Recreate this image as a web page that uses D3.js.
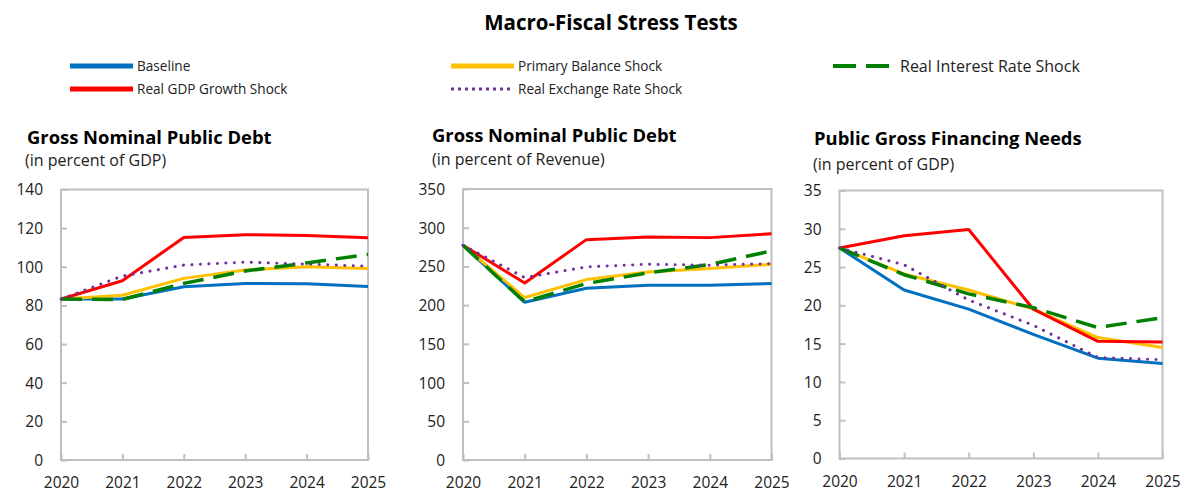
<!DOCTYPE html>
<html>
<head>
<meta charset="utf-8">
<script src="https://cdn.jsdelivr.net/npm/d3@7"></script>
<style>
  body { margin: 0; background: #fff; }
  svg { font-family: "Open Sans", "Noto Sans", sans-serif; }
</style>
</head>
<body>
<div id="wrapper"></div>
<script>
// years on the x axis
const years = [2020, 2021, 2022, 2023, 2024, 2025]

// scenario names (legend order)
const scenarios = ["Baseline", "Primary Balance Shock", "Real Interest Rate Shock",
                   "Real GDP Growth Shock", "Real Exchange Rate Shock"]

// panel 1: gross nominal public debt, % of GDP
const debtGdpBaseline  = [83.3, 83.3, 89.7, 91.4, 91.2, 89.8]
const debtGdpPrimary   = [83.3, 85.3, 94.0, 98.3, 100.0, 99.1]
const debtGdpInterest  = [83.3, 83.1, 91.4, 97.8, 102.0, 106.4]
const debtGdpGrowth    = [83.3, 92.8, 115.2, 116.6, 116.2, 115.0]
const debtGdpExchange  = [83.3, 95.2, 100.9, 102.4, 101.4, 100.3]

// panel 2: gross nominal public debt, % of revenue
const debtRevBaseline  = [277.3, 203.8, 221.8, 225.7, 225.7, 227.9]
const debtRevPrimary   = [277.3, 209.8, 233.0, 242.9, 247.2, 252.8]
const debtRevInterest  = [277.3, 204.2, 227.9, 241.6, 252.4, 270.0]
const debtRevGrowth    = [277.3, 228.7, 284.6, 288.0, 287.2, 292.3]
const debtRevExchange  = [277.3, 235.6, 249.4, 252.8, 251.5, 253.7]

// panel 3: public gross financing needs, % of GDP
const gfnBaseline  = [27.5, 22.0, 19.5, 16.2, 13.1, 12.4]
const gfnPrimary   = [27.5, 24.1, 22.0, 19.5, 15.8, 14.5]
const gfnInterest  = [27.5, 24.0, 21.5, 19.7, 17.1, 18.4]
const gfnGrowth    = [27.5, 29.1, 29.9, 19.5, 15.3, 15.2]
const gfnExchange  = [27.5, 25.3, 20.7, 17.4, 13.2, 12.9]

// y tick values per panel
const ticksDebtGdp = [0, 20, 40, 60, 80, 100, 120, 140]
const ticksDebtRev = [0, 50, 100, 150, 200, 250, 300, 350]
const ticksGfn     = [0, 5, 10, 15, 20, 25, 30, 35]

const styles = {
  "Baseline":                 {color: "#0070C0", width: 3, dash: null},
  "Primary Balance Shock":    {color: "#FFC000", width: 3, dash: null},
  "Real Interest Rate Shock": {color: "#008000", width: 3.5, dash: "21,10"},
  "Real GDP Growth Shock":    {color: "#FF0000", width: 3, dash: null},
  "Real Exchange Rate Shock": {color: "#7030A0", width: 3, dash: "0.1,8.4", cap: "round"}
}
// drawing order (bottom to top)
const drawOrder = ["Baseline", "Primary Balance Shock", "Real GDP Growth Shock",
                   "Real Interest Rate Shock", "Real Exchange Rate Shock"]

const panels = [
  {title: "Gross Nominal Public Debt", sub: "(in percent of GDP)",
   tx: 27, ty: 144, sx: 25, sy: 166,
   box: {left: 61, right: 368, top: 189.5, bottom: 460},
   ticks: ticksDebtGdp,
   series: {"Baseline": debtGdpBaseline, "Primary Balance Shock": debtGdpPrimary,
            "Real Interest Rate Shock": debtGdpInterest, "Real GDP Growth Shock": debtGdpGrowth,
            "Real Exchange Rate Shock": debtGdpExchange}},
  {title: "Gross Nominal Public Debt", sub: "(in percent of Revenue)",
   tx: 432, ty: 142, sx: 432, sy: 165,
   box: {left: 463, right: 771.5, top: 189, bottom: 460},
   ticks: ticksDebtRev,
   series: {"Baseline": debtRevBaseline, "Primary Balance Shock": debtRevPrimary,
            "Real Interest Rate Shock": debtRevInterest, "Real GDP Growth Shock": debtRevGrowth,
            "Real Exchange Rate Shock": debtRevExchange}},
  {title: "Public Gross Financing Needs", sub: "(in percent of GDP)",
   tx: 814, ty: 145, sx: 813, sy: 170,
   box: {left: 839.5, right: 1162.5, top: 190.5, bottom: 458.5},
   ticks: ticksGfn,
   series: {"Baseline": gfnBaseline, "Primary Balance Shock": gfnPrimary,
            "Real Interest Rate Shock": gfnInterest, "Real GDP Growth Shock": gfnGrowth,
            "Real Exchange Rate Shock": gfnExchange}}
]

const width = 1183, height = 492
const svg = d3.select("#wrapper").append("svg")
  .attr("width", width).attr("height", height)

// main title
svg.append("text")
  .attr("x", 611).attr("y", 30)
  .attr("text-anchor", "middle")
  .style("font-size", "20.5px").style("font-weight", "bold")
  .text("Macro-Fiscal Stress Tests")

// legend
const legendItems = [
  {name: "Baseline", x: 70, y: 66, fs: 13.6},
  {name: "Real GDP Growth Shock", x: 70, y: 89, fs: 13.6},
  {name: "Primary Balance Shock", x: 451, y: 66, fs: 13.6},
  {name: "Real Exchange Rate Shock", x: 451, y: 89, fs: 13.6},
  {name: "Real Interest Rate Shock", x: 833, y: 66, fs: 16}
]
const legend = svg.append("g")
legendItems.forEach(it => {
  const st = styles[it.name]
  const isGreen = it.name === "Real Interest Rate Shock"
  const len = isGreen ? 57 : 63
  legend.append("line")
    .attr("x1", it.x).attr("x2", it.x + len)
    .attr("y1", it.y).attr("y2", it.y)
    .attr("stroke", st.color)
    .attr("stroke-width", isGreen ? 4 : (st.dash ? 3 : 5))
    .attr("stroke-dasharray", isGreen ? "23,10" : (st.dash ? "3,4" : null))
  legend.append("text")
    .attr("x", it.x + len + (isGreen ? 10 : 4)).attr("y", it.y)
    .attr("dy", "0.35em")
    .style("font-size", it.fs + "px")
    .attr("fill", "#222")
    .text(it.name)
})

// panels
panels.forEach(p => {
  const g = svg.append("g")
  const b = p.box

  g.append("text").attr("x", p.tx).attr("y", p.ty)
    .style("font-size", "18.4px").style("font-weight", "bold")
    .text(p.title)
  g.append("text").attr("x", p.sx).attr("y", p.sy)
    .style("font-size", "16px").attr("fill", "#222")
    .text(p.sub)

  const xScale = d3.scalePoint().domain(years).range([b.left, b.right])
  const yScale = d3.scaleLinear().domain([0, d3.max(p.ticks)]).range([b.bottom, b.top])

  // frame
  g.append("rect")
    .attr("x", b.left).attr("y", b.top)
    .attr("width", b.right - b.left).attr("height", b.bottom - b.top)
    .attr("fill", "none").attr("stroke", "#bfbfbf").attr("stroke-width", 2)

  // axes, ticks pointing inward
  const yAxis = g.append("g")
    .attr("transform", `translate(${b.left},0)`)
    .call(d3.axisLeft(yScale).tickValues(p.ticks).tickSize(-6).tickPadding(18))
  const xAxis = g.append("g")
    .attr("transform", `translate(0,${b.bottom})`)
    .call(d3.axisBottom(xScale).tickSize(-6).tickPadding(17))
  ;[yAxis, xAxis].forEach(ax => {
    ax.select(".domain").remove()
    ax.selectAll(".tick line").attr("stroke", "#bfbfbf").attr("stroke-width", 2)
    ax.selectAll(".tick text")
      .attr("fill", "#222")
      .style("font-size", "15.5px")
      .style("font-family", "'Open Sans', 'Noto Sans', sans-serif")
  })
  yAxis.selectAll(".tick text").attr("dy", "0.35em")

  const line = d3.line()
    .x((d, i) => xScale(years[i]))
    .y(d => yScale(d))

  drawOrder.forEach(name => {
    const st = styles[name]
    g.append("path")
      .datum(p.series[name])
      .attr("d", line)
      .attr("fill", "none")
      .attr("stroke", st.color)
      .attr("stroke-width", st.width)
      .attr("stroke-dasharray", st.dash)
      .attr("stroke-linecap", st.cap || "butt")
      .attr("stroke-linejoin", "round")
  })
})
</script>
</body>
</html>
